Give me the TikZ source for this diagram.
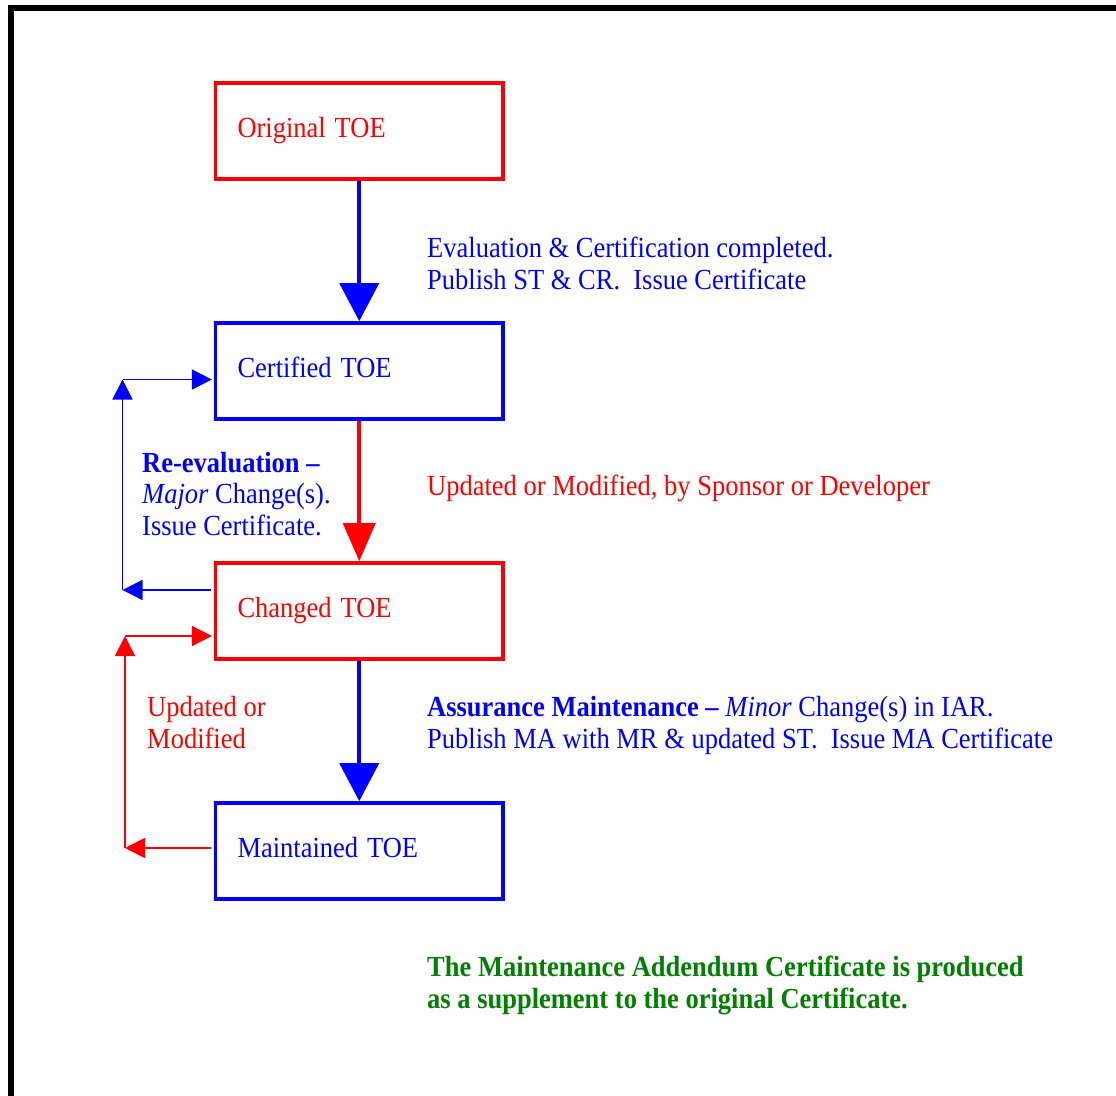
\documentclass[tikz,border=0pt]{standalone}
\usepackage{fontspec}
\setmainfont{Liberation Serif}
\usetikzlibrary{arrows.meta}
\definecolor{fgreen}{RGB}{0,128,0}
\newcommand{\vstretch}[1]{\scalebox{1}[1.1]{#1}}
\begin{document}
\begin{tikzpicture}[x=1pt,y=-1pt,
  tbox/.style={draw, line width=3.6pt, minimum width=287.5pt, minimum height=96pt,
    inner xsep=0pt, inner ysep=0pt, text width=243.5pt, align=left,
    text height=19pt, text depth=6pt, font=\fontsize{26.5}{31}\selectfont},
  lbl/.style={inner sep=0pt, anchor=base west, align=left, yscale=1.1,
    font=\fontsize{26.5}{28.2}\selectfont},
  bigarrow/.style={line width=3.8pt, -{Triangle[width=39pt,length=38pt]}},
  redarrow/.style={line width=3.8pt, -{Triangle[width=32pt,length=38pt]}},
  smallarrow/.style={line width=1.8pt, -{Triangle[width=20pt,length=20pt]}}
]
\useasboundingbox (0,0) rectangle (1116,1095);
% frame
\draw[line width=6pt, line join=miter] (11,1110) -- (11,8) -- (1130,8);

% boxes
\node[tbox, draw=red, text=red] (orig) at (359.25,131) {\vstretch{Original TOE}};
\node[tbox, draw=blue, text=blue] (cert) at (359.25,371) {\vstretch{Certified TOE}};
\node[tbox, draw=red, text=red] (chg) at (359.25,611) {\vstretch{Changed TOE}};
\node[tbox, draw=blue, text=blue] (maint) at (359.25,851) {\vstretch{Maintained TOE}};

% main arrows
\draw[bigarrow, blue] (orig.south) -- (cert.north);
\draw[redarrow, red] (cert.south) -- (chg.north);
\draw[bigarrow, blue] (chg.south) -- (maint.north);

% blue loop
\coordinate (bb) at (122.5,590);
\coordinate (bt) at (122.5,379.5);
\draw[smallarrow, blue, shorten <=3pt] (chg.west |- bb) -- (bb);
\draw[smallarrow, blue] (bb) -- (bt);
\draw[smallarrow, blue, shorten >=1.8pt] (bt) -- (cert.west |- bt);

% red loop
\coordinate (rb) at (125,848);
\coordinate (rt) at (125,636);
\draw[smallarrow, red, shorten <=3pt] (maint.west |- rb) -- (rb);
\draw[smallarrow, red] (rb) -- (rt);
\draw[smallarrow, red, shorten >=1.8pt] (rt) -- (chg.west |- rt);

% labels (anchored at the baseline of their last line)
\node[lbl, text=blue] (l1) at (427,289) {Evaluation \& Certification completed.\\Publish ST \& CR.\ \ Issue Certificate};
\node[lbl, text=red] (l2) at (427,495) {Updated or Modified, by Sponsor or Developer};
\node[lbl, text=blue] (l3) at (142,535) {\textbf{Re-evaluation –}\\\textit{Major} Change(s).\\Issue Certificate.};
\node[lbl, text=red] (l4) at (147,748) {Updated or\\Modified};
\node[lbl, text=blue] (l5) at (427,748) {\textbf{Assurance Maintenance –} \textit{Minor} Change(s) in IAR.\\Publish MA with MR \& updated ST.\ \ Issue MA Certificate};
\node[lbl, text=fgreen, font=\fontsize{26.5}{28.2}\selectfont\bfseries] (l6) at (427,1008) {The Maintenance Addendum Certificate is produced\\as a supplement to the original Certificate.};
\end{tikzpicture}
\end{document}
